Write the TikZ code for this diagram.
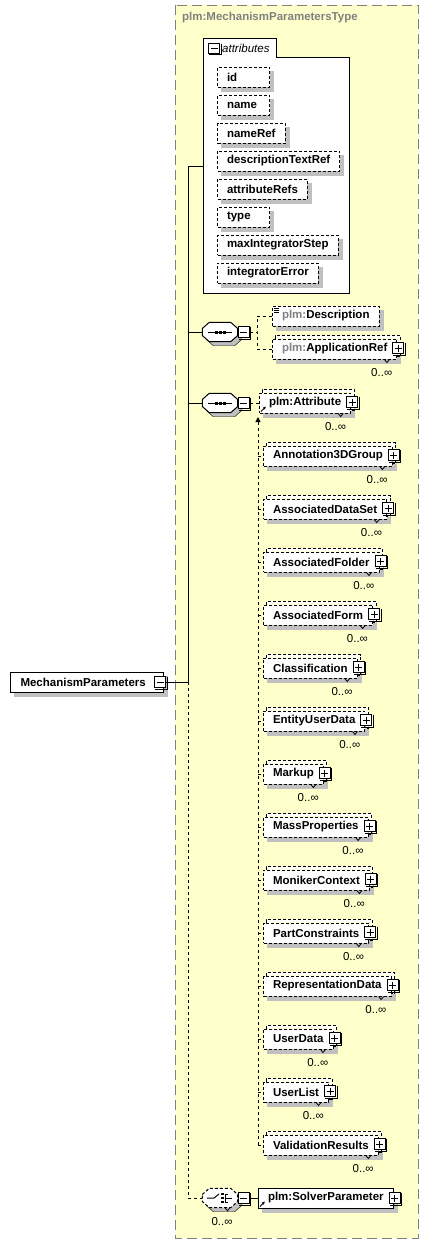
\documentclass[tikz,border=0pt]{standalone}
\usepackage{fontspec}
\setmainfont{Liberation Sans}
\usetikzlibrary{positioning,arrows.meta}

\definecolor{typeyellow}{RGB}{255,255,204}
\definecolor{shadowgrey}{RGB}{192,192,192}
\definecolor{plmgrey}{RGB}{128,128,128}

\pgfdeclarelayer{paper}
\pgfdeclarelayer{shade}
\pgfsetlayers{paper,shade,main}

\newcommand{\plm}{\textcolor{plmgrey}{plm:}}
\newcommand{\elemfont}{\fontsize{11.5pt}{13pt}\selectfont\bfseries}
\newcommand{\multfont}{\fontsize{11.5pt}{13pt}\selectfont}

% grey shadow under a box
\newcommand{\shadeof}[1]{%
  \begin{pgfonlayer}{shade}
    \fill[shadowgrey] ([shift={(4,4)}]#1.north west) rectangle ([shift={(4,4)}]#1.south east);
  \end{pgfonlayer}}

% dark edge of a small icon
\newcommand{\iconshade}[1]{%
  \draw[line width=1pt] ([shift={(1,1)}]#1.north east) -- ([shift={(1,1)}]#1.south east) -- ([shift={(1,1)}]#1.south west);}

% stacked look of a box that may occur many times
\newcommand{\stackof}[1]{%
  \fill[white] ([shift={(3,-3)}]#1.north west) -- ([shift={(3,-3)}]#1.north east)
    -- ([shift={(3,-3)}]#1.south east) -- ([shift={(0.5,-3)}]#1.south east)
    -- ([shift={(0.5,-0.5)}]#1.north east) -- ([shift={(3,-0.5)}]#1.north west) -- cycle;
  \draw[elemline] ([shift={(3,0)}]#1.north west) -- ([shift={(3,-3)}]#1.north west)
    -- ([shift={(3,-3)}]#1.north east) -- ([shift={(3,-3)}]#1.south east)
    -- ([shift={(0,-3)}]#1.south east);
  \draw[line width=0.8pt] ([xshift=-13pt]#1.south east) -- ++(2.5,3) -- ++(2.5,-3);
}

% octagon of a compositor symbol
\newcommand{\octagonof}[3][0,0]{%
  \draw[#3] ([shift={(#1)}, yshift=3.5pt]#2.west) -- ([shift={(#1)}, xshift=7pt]#2.north west)
    -- ([shift={(#1)}, xshift=-7pt]#2.north east) -- ([shift={(#1)}, yshift=3.5pt]#2.east)
    -- ([shift={(#1)}, yshift=-3.5pt]#2.east) -- ([shift={(#1)}, xshift=-7pt]#2.south east)
    -- ([shift={(#1)}, xshift=7pt]#2.south west) -- ([shift={(#1)}, yshift=-3.5pt]#2.west) -- cycle;}

\begin{document}
\begin{tikzpicture}[x=1pt, y=-1pt,
    elemline/.style={line width=1pt, dash pattern=on 3pt off 2pt},
    connline/.style={line width=1pt},
    optline/.style={line width=1pt, dash pattern=on 3pt off 3pt},
    elembox/.style={draw, elemline, fill=white, anchor=west, minimum height=20pt,
      inner xsep=9.5pt, inner ysep=0pt, font=\elemfont},
    solidbox/.style={elembox, solid},
    iconbox/.style={draw, solid, line width=1pt, fill=white, minimum size=11pt, inner sep=0pt},
    minusicon/.style={iconbox, path picture={\draw[line width=1pt]
      ([xshift=2pt]path picture bounding box.west) -- ([xshift=-2pt]path picture bounding box.east);}},
    plusicon/.style={iconbox, path picture={\draw[line width=1pt]
      ([xshift=2pt]path picture bounding box.west) -- ([xshift=-2pt]path picture bounding box.east)
      ([yshift=-2pt]path picture bounding box.north) -- ([yshift=2pt]path picture bounding box.south);}},
    symbox/.style={minimum width=35pt, minimum height=19pt, inner sep=0pt},
    mult/.style={font=\multfont, inner sep=0pt, anchor=east},
    refarrow/.style={-{Latex[length=3pt, width=3pt]}, line width=0.8pt}]

    \useasboundingbox (0,0) rectangle (428,1245);

    % Complex type area and attributes group
    \begin{pgfonlayer}{paper}
        \draw[fill=typeyellow, draw=plmgrey, line width=1pt, dash pattern=on 10pt off 5pt] (175,5) rectangle (418,1238);
        \draw[line width=1pt, fill=white] (203,38) -- (276,38) -- (276,57) -- (349,57) -- (349,293) -- (203,293) -- cycle;
    \end{pgfonlayer}
    \node[font=\elemfont, text=plmgrey, inner sep=0pt, anchor=west] (typename) at (182,18) {plm:MechanismParametersType};
    \node[minusicon, minimum height=10pt] (attrm) at (214,48) {};
    \iconshade{attrm}
    \node[font=\multfont\itshape, inner sep=0pt, anchor=west] (attrtitle) at (222,48) {attributes};
    \foreach \attr/\y/\pad in {id/77/23, name/105/3, nameRef/133/0, descriptionTextRef/161/0,
        attributeRefs/189/0, type/217/9.5, maxIntegratorStep/245/0, integratorError/273/0} {
        \node[elembox] (a-\attr) at (217,\y) {\attr\hspace*{\pad pt}};
        \shadeof{a-\attr}
    }

    % Root element
    \node[solidbox, text width=133pt, inner xsep=10pt, align=left] (mp) at (10,682) {MechanismParameters};
    \shadeof{mp}
    \node[minusicon] (mpm) at ([xshift=-4pt]mp.east) {};
    \iconshade{mpm}

    % Trunk
    \coordinate (trunktop) at (188,166);
    \coordinate (trunkmid) at (188,682);
    \coordinate (trunkbot) at (188,1198);
    \coordinate (attrleft) at (203,166);
    \draw[connline] (mpm.east) -- (trunkmid);
    \draw[connline] (trunktop) -- (trunkmid);
    \draw[connline] (trunktop) -- (attrleft);
    \draw[optline] (trunkmid) -- (trunkbot);

    % Sequences
    \foreach \s/\y in {1/332, 2/403} {
        \node[symbox] (seq\s) at (220,\y) {};
        \begin{pgfonlayer}{shade}
            \octagonof[4,4]{seq\s}{fill=shadowgrey}
        \end{pgfonlayer}
        \octagonof{seq\s}{line width=1pt, fill=white}
        \node[minusicon, right=0pt of seq\s] (seq\s m) {};
        \iconshade{seq\s m}
        \draw[connline] (trunktop |- seq\s) -- (seq\s.west);
        \draw[line width=1pt] ([xshift=6pt]seq\s.west) -- ([xshift=-6pt]seq\s.east);
        \foreach \d in {-4,0,4} {
            \fill ([shift={({\d-1.5},-1.5)}]seq\s.center) rectangle ++(3,3);
        }
    }

    % Description and ApplicationRef
    \coordinate (seq1fork) at (257,332);
    \node[elembox] (desc) at (272,316) {\plm Description};
    \shadeof{desc}
    \node[elembox] (appref) at (272,349) {\plm ApplicationRef};
    \shadeof{appref}
    \draw[optline] (seq1m) -- (seq1fork);
    \draw[optline] (desc.west) -| (seq1fork) |- (appref.west);
    \foreach \d in {0,2,4} {
        \draw[line width=0.8pt] ([shift={(2,{3+\d})}]desc.north west) -- ++(5,0);
    }
    \stackof{appref}
    \node[plusicon] (appref-p) at ([xshift=1pt, yshift=1pt]appref.east) {};
    \iconshade{appref-p}
    \node[mult] (appref-m) at ([xshift=-5pt, yshift=-13pt]appref.south east) {0..∞};

    % Attribute
    \node[elembox] (attrel) at (259,403) {plm:Attribute};
    \shadeof{attrel}
    \draw[optline] (seq2m) -- (attrel);
    \stackof{attrel}
    \node[plusicon] (attrel-p) at ([xshift=1pt, yshift=1pt]attrel.east) {};
    \iconshade{attrel-p}
    \node[mult] (attrel-m) at ([xshift=-5pt, yshift=-13pt]attrel.south east) {0..∞};
    \draw[refarrow] ([shift={(2,-2)}]attrel.south west) -- ++(5,-5);

    % Substitution group of plm:Attribute
    \coordinate (sgtop) at (258,417);
    \foreach \sub [count=\i from 0] in {Annotation3DGroup, AssociatedDataSet, AssociatedFolder,
        AssociatedForm, Classification, EntityUserData, Markup, MassProperties, MonikerContext,
        PartConstraints, RepresentationData, UserData, UserList, ValidationResults} {
        \node[elembox] (sub\i) at (263,{456+53*\i}) {\sub};
        \shadeof{sub\i}
        \stackof{sub\i}
        \node[plusicon] (sub\i-p) at ([xshift=1pt, yshift=1pt]sub\i.east) {};
        \iconshade{sub\i-p}
        \node[mult] (sub\i-m) at ([xshift=-5pt, yshift=-13pt]sub\i.south east) {0..∞};
        \draw[optline] (sgtop |- sub\i.west) -- (sub\i.west);
    }
    \draw[optline, {Triangle[length=5pt, width=5pt]}-] (sgtop) -- (sgtop |- sub13.west);

    % Choice
    \node[symbox] (ch) at (220,1198) {};
    \begin{pgfonlayer}{shade}
        \octagonof[4,4]{ch}{fill=shadowgrey}
    \end{pgfonlayer}
    \octagonof{ch}{elemline, fill=white}
    \node[minusicon, right=0pt of ch] (chm) {};
    \iconshade{chm}
    \draw[optline] (trunkbot) -- (ch.west);
    \draw[line width=1pt] ([xshift=-13pt]ch.center) -- ++(7,0) -- ++(5,-4);
    \foreach \d in {-4,0,4} {
        \fill ([shift={(1,{\d-1.2})}]ch.center) rectangle ++(2.5,2.5);
        \draw[line width=1pt] ([shift={(5,\d)}]ch.center) -- ++(3,0);
    }
    \draw[line width=1pt] ([shift={(5,-4.5)}]ch.center) -- ++(0,9);
    \draw[line width=1pt] ([shift={(8,0)}]ch.center) -- ++(4,0);
    \draw[line width=0.8pt] ([xshift=5pt]ch.south) -- ++(2.5,3) -- ++(2.5,-3);
    \node[font=\multfont, inner sep=0pt] (ch-m) at (222,1222) {0..∞};

    % Solver parameter
    \node[solidbox] (solver) at (258,1198) {plm:SolverParameter};
    \shadeof{solver}
    \node[plusicon] (solver-p) at ([xshift=1pt]solver.east) {};
    \iconshade{solver-p}
    \draw[connline] (chm) -- (solver);
    \draw[refarrow] ([shift={(2,-2)}]solver.south west) -- ++(5,-5);
\end{tikzpicture}
\end{document}
